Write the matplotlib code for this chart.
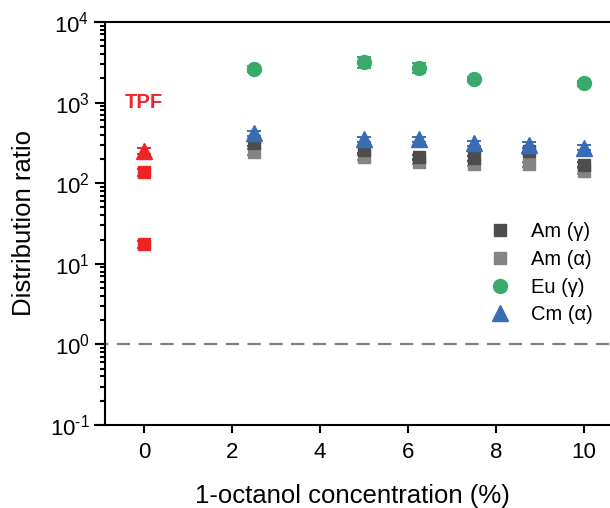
import matplotlib
matplotlib.use("Agg")
import matplotlib.pyplot as plt
from matplotlib.lines import Line2D
import numpy as np

plt.rcParams['font.family'] = ['Liberation Sans', 'DejaVu Sans']
plt.rcParams['mathtext.fontset'] = 'custom'
plt.rcParams['mathtext.rm'] = 'Liberation Sans'
plt.rcParams['mathtext.it'] = 'Liberation Sans:italic'
plt.rcParams['mathtext.bf'] = 'Liberation Sans:bold'

# ---- data ----
octanol = [2.5, 5, 6.25, 7.5, 8.75, 10]
am_gamma = [313, 258, 210, 204, 253, 170]
am_gamma_err = [25, 20, 15, 15, 20, 12]
am_alpha = [245, 210, 185, 175, 171, 142]
am_alpha_err = [20, 15, 14, 13, 13, 12]
cm_alpha = [416, 350, 350, 312, 298, 275]
cm_alpha_err = [30, 25, 25, 22, 22, 20]

eu_x = [2.5, 5, 6.25, 7.5, 10]
eu_gamma = [2640, 3220, 2710, 1950, 1750]
eu_gamma_err = [220, 500, 380, 140, 130]

tpf_x = [0]
tpf_cm = [253]
tpf_cm_err = [20]
tpf_am_high = [136]
tpf_am_high_err = [12]
tpf_am_low = [17.4]
tpf_am_low_err = [1.6]

xticks = [0, 2, 4, 6, 8, 10]
yticks = [0.1, 1, 10, 100, 1000, 10000]
yticklabels = [r'$10^{\text{-}1}$', '$10^{0}$', '$10^{1}$', '$10^{2}$', '$10^{3}$', '$10^{4}$']

# ---- colours ----
c_amg = '#4d4d4d'
c_ama = '#848484'
c_eu = '#38ab6b'
c_cm = '#3a6cb5'
c_tpf = '#ee2427'

fig = plt.figure(figsize=(6.10, 5.08), dpi=100)
ax = fig.add_axes([95/610, 83/508, 515/610, 403/508])

ax.set_yscale('log')
ax.set_xlim(-1.11, 10.59)
ax.set_ylim(0.1, 10000)

ekw = dict(capsize=5.2, elinewidth=1.4, capthick=1.4, linestyle='none')

ax.axhline(1, color='#808080', lw=1.6, dashes=(6, 3.8), zorder=1)

ax.errorbar(octanol, am_alpha, yerr=am_alpha_err, fmt='s', ms=9, color=c_ama,
            ecolor=c_ama, zorder=3, **ekw)
ax.errorbar(octanol, am_gamma, yerr=am_gamma_err, fmt='s', ms=9, color=c_amg,
            ecolor=c_amg, zorder=4, **ekw)
ax.errorbar(eu_x, eu_gamma, yerr=eu_gamma_err, fmt='o', ms=10, color=c_eu,
            ecolor=c_eu, zorder=5, **ekw)
ax.errorbar(octanol, cm_alpha, yerr=cm_alpha_err, fmt='^', ms=11, color=c_cm,
            ecolor=c_cm, zorder=6, **ekw)

ax.errorbar(tpf_x, tpf_cm, yerr=tpf_cm_err, fmt='^', ms=11, color=c_tpf,
            ecolor=c_tpf, zorder=6, **ekw)
ax.errorbar(tpf_x, tpf_am_high, yerr=tpf_am_high_err, fmt='s', ms=9, color=c_tpf,
            ecolor=c_tpf, zorder=6, **ekw)
ax.errorbar(tpf_x, tpf_am_low, yerr=tpf_am_low_err, fmt='s', ms=9, color=c_tpf,
            ecolor=c_tpf, zorder=6, **ekw)

ax.text(0, 1000, 'TPF', color=c_tpf, fontsize=14.5, fontweight='bold',
        ha='center', va='center')

# ---- axes styling ----
ax.spines['right'].set_visible(False)
ax.spines['left'].set_position(('data', -0.886))
for s in ['left', 'bottom', 'top']:
    ax.spines[s].set_linewidth(1.5)

ax.set_xticks(xticks)
ax.set_xticklabels([str(t) for t in xticks])
ax.set_yticks(yticks)
ax.set_yticklabels(yticklabels)
ax.yaxis.set_minor_locator(matplotlib.ticker.LogLocator(base=10, subs=np.arange(2, 10)))
ax.yaxis.set_minor_formatter(matplotlib.ticker.NullFormatter())
ax.tick_params(axis='both', which='major', direction='out', width=1.5,
               labelsize=16, colors='black')
ax.tick_params(axis='x', which='major', length=6, pad=6)
ax.tick_params(axis='y', which='major', length=7, pad=4)
ax.tick_params(axis='y', which='minor', length=3.6, width=1.5)
ax.tick_params(axis='x', which='minor', bottom=False)

ax.set_xlabel('1-octanol concentration (%)', fontsize=18.5, labelpad=15)
ax.set_ylabel('Distribution ratio', fontsize=18.5, labelpad=10)

handles = [
    Line2D([], [], marker='s', ms=9, color=c_amg, ls='none'),
    Line2D([], [], marker='s', ms=9, color=c_ama, ls='none'),
    Line2D([], [], marker='o', ms=10, color=c_eu, ls='none'),
    Line2D([], [], marker='^', ms=11, color=c_cm, ls='none'),
]
labels = ['Am (γ)', 'Am (α)', 'Eu (γ)', 'Cm (α)']
ax.legend(handles, labels, loc='center left', bbox_to_anchor=(0.7676, 0.376),
          frameon=False, fontsize=14.5, handlelength=1.0, handletextpad=1.0,
          borderaxespad=0, borderpad=0, labelspacing=0.43)

fig.savefig('out.png', dpi=100)
